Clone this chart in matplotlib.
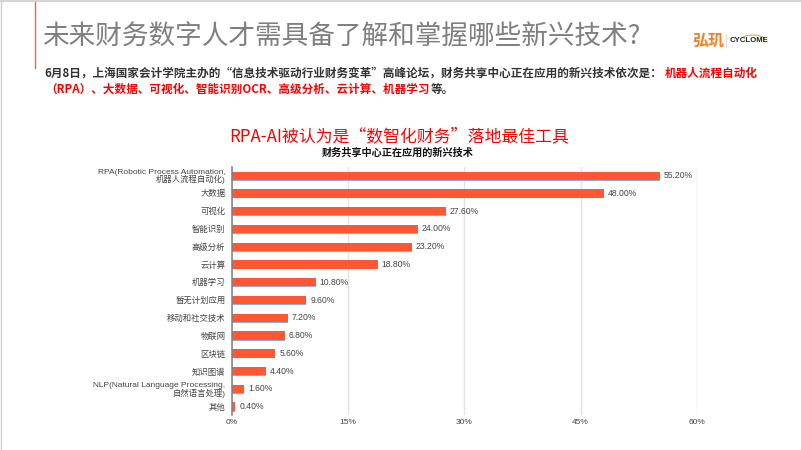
import matplotlib
matplotlib.use("Agg")
import matplotlib.pyplot as plt
from matplotlib.patches import Arc

CJK = ['Noto Sans CJK SC', 'DejaVu Sans']
MIX = ['Liberation Sans', 'Noto Sans CJK SC']
plt.rcParams['font.family'] = CJK

categories = ["RPA(Robotic Process Automation,\n机器人流程自动化)", "大数据", "可视化", "智能识别", "高级分析",
              "云计算", "机器学习", "暂无计划应用", "移动和社交技术", "物联网", "区块链", "知识图谱",
              "NLP(Natural Language Processing,\n自然语言处理)", "其他"]
values = [55.2, 48.0, 27.6, 24.0, 23.2, 18.8, 10.8, 9.6, 7.2, 6.8, 5.6, 4.4, 1.6, 0.4]
xticks = [0, 15, 30, 45, 60]

W, H = 801, 450
fig = plt.figure(figsize=(W / 100, H / 100), dpi=100, facecolor='white')

# slide layer in pixel coordinates
bg = fig.add_axes([0, 0, 1, 1])
bg.set_xlim(0, W)
bg.set_ylim(H, 0)
bg.axis('off')
bg.plot([0, W], [1.2, 1.2], color='#cccccc', lw=1.2)
bg.plot([0.6, 0.6], [0, H], color='#d0d0d0', lw=1.0)
bg.plot([34.5, 34.5], [2, 68], color='#f0653a', lw=1.0)

bg.text(42, 37.5, "未来财务数字人才需具备了解和掌握哪些新兴技术?", fontsize=19.2,
        color='#7f7f7f', va='center', ha='left')

sub = dict(fontsize=8.35, fontweight='bold', va='center', ha='left')
bg.text(44, 73, "6月8日\uff0c上海国家会计学院主办的“信息技术驱动行业财务变革”高峰论坛\uff0c财务共享中心正在应用的新兴技术依次是\uff1a",
        color='#333333', **sub)
bg.text(665, 73, "机器人流程自动化", color='#ff0000', **sub)
bg.text(45, 89, "\uff08RPA\uff09、大数据、可视化、智能识别OCR、高级分析、云计算、机器学习", color='#ff0000', **sub)
bg.text(431, 89, "等。", color='#333333', **sub)

# logo
bg.text(708, 41, "弘玑", fontsize=11.5, fontweight='bold', color='#f58025', ha='center', va='center')
bg.plot([725.5, 725.5], [34, 47], color='#dddddd', lw=0.8)
bg.text(749, 41, "CYCLOME", fontsize=5.6, fontweight='bold', color='#222222', ha='center', va='center',
        family=['Liberation Sans'])
bg.add_patch(Arc((753, 41), 26, 12, theta1=200, theta2=350, color='#e8a020', lw=0.7))

bg.text(399, 136, "RPA-AI被认为是“数智化财务”落地最佳工具", fontsize=12.2, color='#ff0000',
        ha='center', va='center')
bg.text(398, 153, "财务共享中心正在应用的新兴技术", fontsize=7.3, fontweight='bold', color='#111111',
        ha='center', va='center')

# chart
left, right, top, bottom = 232, 696.7, 166.7, 415
ax = fig.add_axes([left / W, 1 - bottom / H, (right - left) / W, (bottom - top) / H])
ax.patch.set_alpha(0)
ypos = list(range(len(values)))
ax.barh([y + 0.03 for y in ypos], values, height=0.5, color='#7fb6e0', zorder=2)
ax.barh(ypos, values, height=0.47, color='#ff5733', zorder=3)
ax.set_xlim(0, 60)
ax.set_ylim(13.47, -0.506)
ax.set_yticks(ypos)
ax.set_yticklabels(categories, family=MIX, fontsize=6, color='#444444', linespacing=0.95)
ax.set_xticks(xticks)
ax.set_xticklabels([f"{t}%" for t in xticks], family=MIX, fontsize=6, color='#444444')
ax.tick_params(axis='both', length=0)
ax.tick_params(axis='y', pad=6.5 * 0.72)
ax.tick_params(axis='x', pad=3)
ax.grid(axis='x', color='#e2e2e2', lw=1.0, zorder=0)
ax.set_axisbelow(True)
for s in ('top', 'right', 'bottom'):
    ax.spines[s].set_visible(False)
ax.spines['left'].set_color('#808080')
ax.spines['left'].set_linewidth(1.1)
ax.spines['left'].set_zorder(5)

for y, v in zip(ypos, values):
    ax.annotate(f"{v:.2f}%", (v, y), xytext=(3, 0), textcoords='offset points', va='center', ha='left',
                fontsize=6.2, color='#444444', family=MIX, zorder=6)

fig.savefig('out.png', dpi=100)
